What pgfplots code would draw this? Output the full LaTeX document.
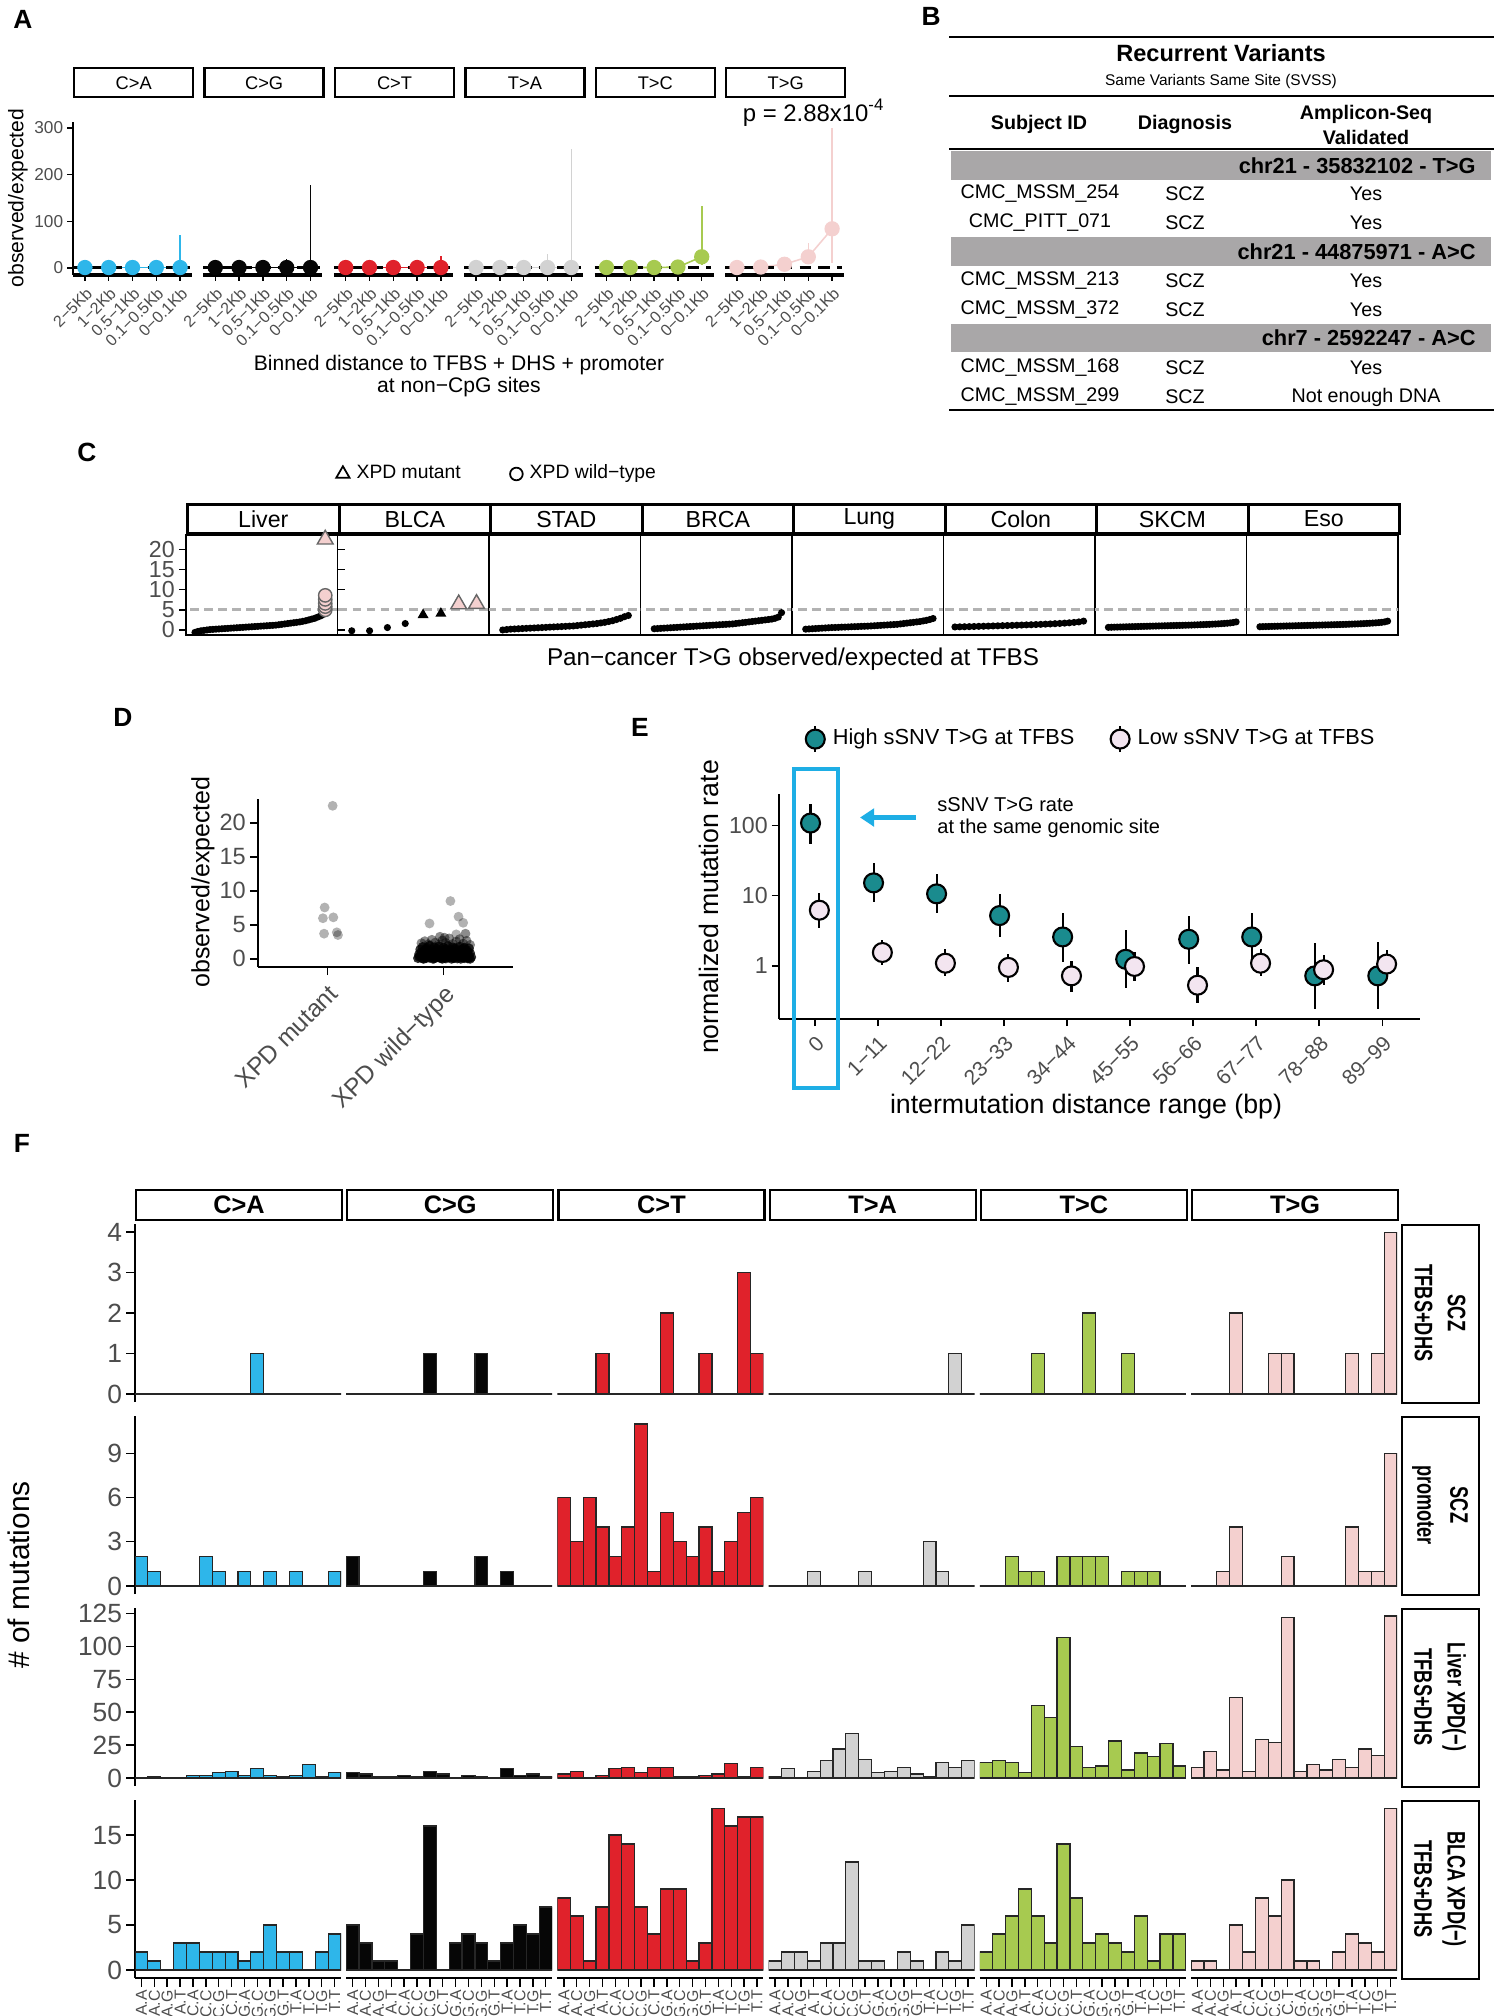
\documentclass[border=0pt]{standalone}
\usepackage{fontspec}
\setmainfont{Liberation Sans}
\newfontfamily\nsans[FakeStretch=0.72]{Liberation Sans}
\usepackage{pgfplots}
\pgfplotsset{compat=1.18}
\usepackage{pgfplotstable}
\usetikzlibrary{arrows.meta}
\newcommand\fs[1]{\fontsize{#1}{\fpeval{1.2*#1}}\selectfont}

\definecolor{cCA}{HTML}{2EB6EA}
\definecolor{cCG}{HTML}{060606}
\definecolor{cCT}{HTML}{E0222B}
\definecolor{cTA}{HTML}{D2D2D2}
\definecolor{cTC}{HTML}{A7CA50}
\definecolor{cTG}{HTML}{F4D0CF}
\definecolor{tg}{HTML}{4D4D4D}
\definecolor{teal2}{HTML}{1A8B8E}
\definecolor{lav}{HTML}{F3E5F0}
\definecolor{cyanbox}{HTML}{1EAEE5}
\definecolor{tabgray}{HTML}{A9A7A8}

% panel A: observed/expected per distance bin, with upper/lower error
\pgfplotstableread{
x ca epca emca cg epcg emcg ct epct emct ta epta emta tc eptc emtc tg eptg emtg
1 1 0 0 1 0 0 1 0 0 1 0 0 1 0 0 1 0 0
2 1 0 0 1 0 0 1 0 0 1 0 0 1 0 0 2 2 1
3 1 0 0 1 0 0 1 0 0 1 0 0 1 0 0 8 6 5
4 1 2 1 1 19 1 1 3 1 1 29 1 2 6 1 24 29 14
5 1 70 1 1 176 1 1 24 1 1 255 1 24 109 18 84 216 74
}\TA

% panel F: counts per trinucleotide context (A.A ... T.T)
\pgfplotstableread{
ca cg ct ta tc tg
0 0 0 0 0 0
0 0 0 0 0 0
0 0 0 0 0 0
0 0 1 0 0 2
0 0 0 0 1 0
0 0 0 0 0 0
0 1 0 0 0 1
0 0 0 0 0 1
0 0 2 0 2 0
1 0 0 0 0 0
0 1 0 0 0 0
0 0 1 0 1 0
0 0 0 0 0 1
0 0 0 0 0 0
0 0 3 1 0 1
0 0 1 0 0 4
}\FA
\pgfplotstableread{
ca cg ct ta tc tg
2 2 6 0 0 0
1 0 3 0 0 0
0 0 6 0 2 1
0 0 4 1 1 4
0 0 2 0 1 0
2 0 4 0 0 0
1 1 11 0 2 0
0 0 1 1 2 2
1 0 5 0 2 0
0 0 3 0 2 0
1 2 2 0 0 0
0 0 4 0 1 0
1 1 1 3 1 4
0 0 3 1 1 1
0 0 5 0 0 1
1 0 6 0 0 9
}\FB
\pgfplotstableread{
ca cg ct ta tc tg
0 4 3 1 12 8
1 3 5 7 13 20
0 1 0 0 12 6
0 1 2 5 4 61
2 2 7 13 55 5
2 1 8 22 46 29
4 5 4 34 107 27
5 3 8 14 24 122
2 0 8 4 8 5
7 2 1 5 9 10
2 1 1 8 28 6
1 0 2 3 6 14
2 7 3 1 19 8
10 2 11 12 16 22
1 3 1 8 26 17
4 1 8 13 9 123
}\FC
\pgfplotstableread{
ca cg ct ta tc tg
2 5 8 1 2 1
1 3 6 2 4 1
0 1 1 2 6 0
3 1 7 1 9 5
3 0 15 3 6 2
2 4 14 3 3 8
2 16 7 12 14 6
2 0 4 1 8 10
1 3 9 1 3 1
2 4 9 0 4 1
5 3 1 2 3 0
2 1 3 1 2 2
2 3 18 0 6 4
0 5 16 2 1 3
2 4 17 1 4 2
4 7 17 5 4 18
}\FD

\pgfplotsset{
  base/.style={scale only axis, anchor=south west,
    /pgf/number format/assume math mode=true,
    tick align=outside, major tick length=2pt, tick style={black, line width=0.4pt},
    ticklabel style={text=tg}, yticklabel style={inner sep=1pt}, axis line style={line width=0.5pt}},
  pA/.style={base, width=1.19cm, height=1.53cm, xmin=0.5, xmax=5.5, ymin=-15, ymax=313,
    axis x line*=bottom, x axis line style={line width=0.9pt}, y axis line style={line width=0.6pt},
    major tick length=1.6pt,
    xtick={1,...,5}, xticklabels={2−5Kb,1−2Kb,0.5−1Kb,0.1−0.5Kb,0−0.1Kb},
    xticklabel style={font=\fs{4.6}, rotate=45, anchor=north east, inner sep=1pt},
    ytick={0,100,200,300}, yticklabel style={font=\fs{4.9}}, clip=false},
  pC/.style={base, width=1.515cm, height=1.0cm, ymin=-1.25, ymax=23.6,
    xtick=\empty, ytick=\empty, axis line style={line width=0.5pt}, clip mode=individual},
  pF/.style={base, width=2.06cm, height=1.78cm, xmin=0.5, xmax=16.5,
    yticklabel style={font=\fs{7.5}}, axis line style={line width=0.6pt}, major tick length=2.5pt,
    xtick={1,...,16}, xticklabels={A.A,A.C,A.G,A.T,C.A,C.C,C.G,C.T,G.A,G.C,G.G,G.T,T.A,T.C,T.G,T.T},
    xticklabel style={font=\fs{4.5}, rotate=90, anchor=east, inner sep=0.8pt}},
  dots/.style={only marks, mark=*, mark size=0.8pt, black, forget plot},
  dash5/.style={black!30, line width=0.8pt, dash pattern=on 2.5pt off 1.5pt, forget plot},
  cloud/.style={only marks, mark=*, mark size=1.4pt, draw opacity=0, fill opacity=#1,
    mark options={draw opacity=0, fill=black, fill opacity=#1}},
}

\begin{document}
\begin{tikzpicture}
\useasboundingbox (0,0) rectangle (15,-20.16);

\node[font=\bfseries\fs{7.5}] at (0.23,-0.19) {A};
\node[font=\bfseries\fs{7.5}] at (9.31,-0.16) {B};
\node[font=\bfseries\fs{7.5}] at (0.87,-4.52) {C};
\node[font=\bfseries\fs{7.5}] at (1.23,-7.17) {D};
\node[font=\bfseries\fs{7.5}] at (6.40,-7.27) {E};
\node[font=\bfseries\fs{7.5}] at (0.22,-11.43) {F};

% ---------------- A ----------------
\foreach \k/\c/\colr/\lab in {0/ca/cCA/C>A,1/cg/cCG/C>G,2/ct/cCT/C>T,3/ta/cTA/T>A,4/tc/cTC/T>C,5/tg/cTG/T>G}{
  \pgfmathsetmacro\xl{0.73+1.304*\k}
  \node[draw, line width=0.7pt, minimum width=1.19cm, minimum height=0.29cm, inner sep=0pt,
        anchor=north west, font=\fs{5.2}] at (\xl,-0.67) {\lab};
  \ifnum\k=0 \pgfplotsset{axis y line*=left}\else\pgfplotsset{hide y axis}\fi
  \begin{axis}[pA, at={(\xl cm,-2.75cm)}]
    \addplot[color=\colr, line width=0.45pt, mark=*, mark size=1.95pt,
      mark options={draw=none, fill=\colr},
      error bars/.cd, y dir=both, y explicit, error mark=none,
      error bar style={line width=0.45pt, color=\colr}]
      table[x=x, y=\c, y error plus=ep\c, y error minus=em\c] {\TA};
    \addplot[black, line width=0.8pt, dash pattern=on 3.3pt off 2pt] coordinates {(0.5,1) (5.4,1)};
  \end{axis}
}
\node[font=\fs{6.8}] at (8.14,-1.13) {p = 2.88x10\textsuperscript{-4}};
\node[rotate=90, font=\fs{6}] at (0.18,-1.98) {observed/expected};
\node[font=\fs{6}] at (4.59,-3.65) {Binned distance to TFBS + DHS + promoter};
\node[font=\fs{6}] at (4.59,-3.87) {at non−CpG sites};

% ---------------- B ----------------
\draw[line width=0.6pt] (9.49,-0.37) -- (14.94,-0.37);
\node[font=\bfseries\fs{6.7}] at (12.21,-0.53) {Recurrent Variants};
\node[font=\fs{4.4}] at (12.21,-0.82) {Same Variants Same Site (SVSS)};
\draw[line width=0.6pt] (9.49,-0.96) -- (14.94,-0.96);
\node[font=\bfseries\fs{5.6}] at (10.39,-1.24) {Subject ID};
\node[font=\bfseries\fs{5.6}] at (11.85,-1.24) {Diagnosis};
\node[font=\bfseries\fontsize{5.6}{7.1}\selectfont, align=center] at (13.66,-1.25) {Amplicon-Seq\\Validated};
\draw[line width=0.6pt] (9.49,-1.49) -- (14.94,-1.49);
\fill[tabgray] (9.51,-1.51) rectangle (14.91,-1.80);
\fill[tabgray] (9.51,-2.37) rectangle (14.91,-2.66);
\fill[tabgray] (9.51,-3.24) rectangle (14.91,-3.52);
\node[font=\bfseries\fs{6.2}, anchor=east] at (14.88,-1.655) {chr21 - 35832102 - T>G};
\node[font=\bfseries\fs{6.2}, anchor=east] at (14.88,-2.515) {chr21 - 44875971 - A>C};
\node[font=\bfseries\fs{6.2}, anchor=east] at (14.88,-3.38) {chr7 - 2592247 - A>C};
\foreach \y/\id/\val in {1.94/CMC\_MSSM\_254/Yes, 2.23/CMC\_PITT\_071/Yes, 2.81/CMC\_MSSM\_213/Yes,
  3.10/CMC\_MSSM\_372/Yes, 3.68/CMC\_MSSM\_168/Yes, 3.97/CMC\_MSSM\_299/Not enough DNA}{
  \node[font=\fs{5.6}] at (10.40,-\y) {\id};
  \node[font=\fs{5.6}] at (11.85,-\y) {SCZ};
  \node[font=\fs{5.6}] at (13.66,-\y) {\val};
}
\draw[line width=0.6pt] (9.49,-4.10) -- (14.94,-4.10);

% ---------------- C ----------------
\foreach \k/\lab in {0/Liver,1/BLCA,2/STAD,3/BRCA,4/Lung,5/Colon,6/SKCM,7/Eso}{
  \pgfmathsetmacro\xl{1.86+1.515*\k}
  \node[draw, line width=0.9pt, minimum width=1.515cm, minimum height=0.29cm, inner sep=0pt,
        anchor=north west, font=\fs{6.6}] at (\xl,-5.03) {\lab};
}
\begin{axis}[pC, at={(1.86cm,-6.35cm)}, xmin=-2, xmax=48.6,
  ytick={0,5,10,15,20}, yticklabel style={font=\fs{6.6}},
  legend style={at={(2.07,1.61)}, anchor=center, draw=none, fill=none, legend columns=2,
    font=\fs{5.5}, /tikz/every even column/.append style={column sep=12pt}}]
  \addplot[dash5] coordinates {(-10,5) (60,5)};
  \addplot[dots] table[header=false, x expr=\coordindex+1, y index=0, row sep=\\]{
-0.6\\-0.35\\-0.2\\-0.1\\0.0\\0.1\\0.15\\0.2\\0.25\\0.3\\0.35\\0.4\\0.45\\0.5\\0.55\\0.6\\0.65\\0.7\\0.75\\0.8\\0.85\\0.9\\
0.95\\1.0\\1.05\\1.1\\1.15\\1.2\\1.3\\1.4\\1.5\\1.6\\1.7\\1.8\\1.9\\2.0\\2.15\\2.3\\2.5\\2.7\\2.9\\3.2\\3.5\\3.9\\};
  \addplot[only marks, mark=*, mark size=1.9pt, mark options={fill=cTG, draw=black!60, line width=0.4pt}, forget plot]
    coordinates {(44.5,5.0) (44.5,5.8) (44.5,6.6) (44.5,7.6) (44.5,8.6)};
  \addplot[only marks, mark=triangle*, mark size=2.6pt, mark options={fill=cTG, draw=black!60, line width=0.4pt}, forget plot]
    coordinates {(44.5,22.5)};
  \addlegendimage{only marks, mark=triangle, mark size=2.2pt, black, mark options={line width=0.5pt}}
  \addlegendentry{XPD mutant}
  \addlegendimage{only marks, mark=o, mark size=1.8pt, black, mark options={line width=0.5pt}}
  \addlegendentry{XPD wild−type}
\end{axis}
\begin{axis}[pC, at={(3.375cm,-6.35cm)}, xmin=0.2, xmax=8.7]
  \addplot[dash5] coordinates {(-10,5) (60,5)};
  \addplot[dots] coordinates {(1,-0.2) (2,-0.2) (3,0.6) (4,1.6)};
  \addplot[only marks, mark=triangle*, mark size=1.4pt, black] coordinates {(5,3.75) (6,4.1)};
  \addplot[only marks, mark=triangle*, mark size=2.6pt, mark options={fill=cTG, draw=black!60, line width=0.4pt}]
    coordinates {(7,6.4) (8,6.5)};
\end{axis}
\begin{axis}[pC, at={(4.89cm,-6.35cm)}, xmin=-2.5, xmax=36.1]
  \addplot[dash5] coordinates {(-10,5) (60,5)};
  \addplot[dots] table[header=false, x expr=\coordindex+1, y index=0, row sep=\\]{
0.0\\0.1\\0.2\\0.25\\0.3\\0.35\\0.4\\0.45\\0.5\\0.55\\0.6\\0.65\\0.7\\0.75\\0.8\\0.85\\0.9\\0.95\\1.0\\1.1\\1.2\\1.3\\
1.4\\1.5\\1.6\\1.75\\1.9\\2.1\\2.3\\2.6\\2.9\\3.3\\3.6\\};
\end{axis}
\begin{axis}[pC, at={(6.405cm,-6.35cm)}, xmin=-3.2, xmax=43.2]
  \addplot[dash5] coordinates {(-10,5) (60,5)};
  \addplot[dots] table[header=false, x expr=\coordindex+1, y index=0, row sep=\\]{
0.3\\0.35\\0.4\\0.45\\0.5\\0.55\\0.6\\0.65\\0.7\\0.75\\0.8\\0.85\\0.9\\0.95\\1.0\\1.05\\1.1\\1.15\\1.2\\1.25\\1.3\\1.35\\
1.4\\1.45\\1.5\\1.6\\1.7\\1.8\\1.9\\2.0\\2.1\\2.2\\2.3\\2.4\\2.5\\2.6\\2.7\\2.9\\3.2\\4.3\\};
\end{axis}
\begin{axis}[pC, at={(7.92cm,-6.35cm)}, xmin=-3.2, xmax=43.2]
  \addplot[dash5] coordinates {(-10,5) (60,5)};
  \addplot[dots] table[header=false, x expr=\coordindex+1, y index=0, row sep=\\]{
0.2\\0.25\\0.3\\0.35\\0.4\\0.45\\0.5\\0.55\\0.6\\0.62\\0.65\\0.7\\0.72\\0.75\\0.8\\0.82\\0.85\\0.9\\0.92\\0.95\\1.0\\1.05\\
1.1\\1.15\\1.2\\1.25\\1.3\\1.35\\1.4\\1.5\\1.6\\1.7\\1.8\\1.9\\2.0\\2.1\\2.25\\2.4\\2.6\\2.85\\};
\end{axis}
\begin{axis}[pC, at={(9.435cm,-6.35cm)}, xmin=-1.4, xmax=30.4]
  \addplot[dash5] coordinates {(-10,5) (60,5)};
  \addplot[dots] table[header=false, x expr=\coordindex+1, y index=0, row sep=\\]{
0.75\\0.78\\0.8\\0.83\\0.86\\0.9\\0.93\\0.96\\1.0\\1.03\\1.07\\1.1\\1.14\\1.18\\1.22\\1.26\\1.3\\1.35\\1.4\\1.45\\1.5\\
1.56\\1.62\\1.7\\1.78\\1.88\\2.0\\2.2\\};
\end{axis}
\begin{axis}[pC, at={(10.95cm,-6.35cm)}, xmin=-3.5, xmax=47.5]
  \addplot[dash5] coordinates {(-10,5) (60,5)};
  \addplot[dots] table[header=false, x expr=\coordindex+1, y index=0, row sep=\\]{
0.65\\0.68\\0.7\\0.72\\0.74\\0.76\\0.78\\0.8\\0.82\\0.84\\0.86\\0.88\\0.9\\0.92\\0.94\\0.96\\0.98\\1.0\\1.02\\1.04\\
1.06\\1.08\\1.1\\1.12\\1.14\\1.16\\1.18\\1.2\\1.22\\1.25\\1.28\\1.31\\1.34\\1.37\\1.4\\1.44\\1.48\\1.52\\1.57\\1.62\\
1.68\\1.75\\1.85\\2.0\\};
\end{axis}
\begin{axis}[pC, at={(12.465cm,-6.35cm)}, xmin=-3.5, xmax=47.5]
  \addplot[dash5] coordinates {(-10,5) (60,5)};
  \addplot[dots] table[header=false, x expr=\coordindex+1, y index=0, row sep=\\]{
0.8\\0.83\\0.85\\0.87\\0.89\\0.91\\0.93\\0.95\\0.97\\0.99\\1.01\\1.03\\1.05\\1.07\\1.09\\1.11\\1.13\\1.15\\1.17\\1.19\\
1.21\\1.23\\1.25\\1.27\\1.29\\1.31\\1.33\\1.35\\1.37\\1.4\\1.43\\1.46\\1.49\\1.52\\1.55\\1.59\\1.63\\1.67\\1.72\\1.77\\
1.83\\1.9\\2.0\\2.2\\};
\end{axis}
\node[font=\fs{6.9}] at (7.93,-6.59) {Pan−cancer T>G observed/expected at TFBS};

% ---------------- D ----------------
\begin{axis}[base, at={(2.58cm,-9.67cm)}, width=2.55cm, height=1.68cm,
  xmin=0.4, xmax=2.6, ymin=-1.2, ymax=23.5,
  axis x line*=bottom, axis y line*=left, axis line style={line width=0.6pt}, major tick length=2.3pt,
  xtick={1,2}, xticklabels={XPD mutant,XPD wild−type},
  xticklabel style={font=\fs{7}, rotate=45, anchor=north east, inner sep=1.5pt},
  ytick={0,5,10,15,20}, yticklabel style={font=\fs{6.7}}, clip=false]
  % isolated samples
  \addplot[cloud=0.3]
  coordinates {(1.044,22.5) (0.975,7.55) (0.96,5.97) (1.05,6.1) (0.97,3.7) (1.08,3.9) (1.09,3.5)
  (2.06,8.5) (2.13,6.2) (2.17,5.3) (1.88,5.2) (2.11,3.6)};
  % upper fringe of the cloud
  \addplot[cloud=0.45]
  coordinates {
  (1.81,2.30) (1.84,2.60) (1.87,2.15) (1.90,2.80) (1.93,2.40) (1.96,2.10) (1.99,2.70) (2.02,2.35)
  (2.05,3.00) (2.08,2.20) (2.11,2.55) (2.14,2.90) (2.17,2.25) (2.20,2.65) (2.23,2.05) (1.97,3.25)
  (2.01,3.10) (2.19,3.70)};
  % dense wild-type cloud
  \addplot[cloud=0.8]
  coordinates {
  (1.78,0.10) (1.80,0.35) (1.82,0.05) (1.84,0.25) (1.86,0.45) (1.88,0.15) (1.90,0.30) (1.92,0.05)
  (1.94,0.40) (1.96,0.20) (1.98,0.10) (2.00,0.35) (2.02,0.05) (2.04,0.25) (2.06,0.45) (2.08,0.15)
  (2.10,0.30) (2.12,0.05) (2.14,0.40) (2.16,0.20) (2.18,0.10) (2.20,0.35) (2.22,0.15) (2.24,0.25)
  (1.79,0.70) (1.81,1.00) (1.83,0.60) (1.85,0.90) (1.87,1.15) (1.89,0.65) (1.91,0.95) (1.93,0.55)
  (1.95,1.10) (1.97,0.75) (1.99,0.60) (2.01,1.05) (2.03,0.80) (2.05,0.55) (2.07,1.00) (2.09,0.70)
  (2.11,1.15) (2.13,0.60) (2.15,0.90) (2.17,0.75) (2.19,1.10) (2.21,0.65) (2.23,0.85)
  (1.80,1.40) (1.82,1.75) (1.84,1.30) (1.86,1.60) (1.88,1.95) (1.90,1.35) (1.92,1.70) (1.94,1.50)
  (1.96,1.85) (1.98,1.25) (2.00,1.65) (2.02,1.45) (2.04,1.90) (2.06,1.30) (2.08,1.70) (2.10,1.55)
  (2.12,1.25) (2.14,1.80) (2.16,1.40) (2.18,1.65) (2.20,1.30) (2.22,1.55)
  (1.83,0.00) (1.91,0.00) (1.99,0.00) (2.07,0.00) (2.15,0.00) (2.23,0.00) (1.87,0.50) (1.95,0.45)
  (2.03,0.50) (2.11,0.50) (2.19,0.50)
  (1.79,0.30) (1.85,0.10) (1.89,0.40) (1.93,0.20) (1.97,0.35) (2.01,0.15) (2.05,0.30) (2.09,0.10)
  (2.13,0.35) (2.17,0.25) (2.21,0.05) (1.81,0.55) (1.89,0.85) (1.97,1.00) (2.05,0.80) (2.13,0.95)
  (2.21,1.00) (1.85,1.45) (1.93,1.20) (2.01,1.35) (2.09,1.30) (2.17,1.50) (1.83,1.05) (2.15,1.10)};
\end{axis}
\node[rotate=90, font=\fs{7.1}] at (2.03,-8.82) {observed/expected};

% ---------------- E ----------------
\begin{axis}[base, at={(7.79cm,-10.19cm)}, width=6.41cm, height=2.25cm,
  ymode=log, ymin=0.175, ymax=280, xmin=0.43, xmax=10.6,
  axis x line*=bottom, axis y line*=left, axis line style={line width=0.7pt},
  ytick={1,10,100}, yticklabels={1,10,100}, yminorticks=false,
  yticklabel style={font=\fs{6.6}},
  xtick={1,...,10}, xticklabels={0,1−11,12−22,23−33,34−44,45−55,56−66,67−77,78−88,89−99},
  xticklabel style={font=\fs{6}, rotate=45, anchor=north east, inner sep=1.5pt},
  clip=false,
  legend style={at={(0.49,1.244)}, anchor=center, draw=none, fill=none, legend columns=2,
    font=\fs{6.2}, /tikz/every even column/.append style={column sep=8pt}}]
  \addplot[only marks, mark=*, mark size=2.7pt, mark options={fill=teal2, draw=black, line width=0.6pt},
    legend image code/.code={\draw[black, line width=0.6pt] (0.15cm,-0.13cm) -- (0.15cm,0.13cm);
      \draw[black, fill=teal2, line width=0.6pt] (0.15cm,0cm) circle (2.7pt);},
    error bars/.cd, y dir=both, y explicit, error mark=none, error bar style={black, line width=0.6pt}]
  coordinates {(0.93,108) += (0,95) -= (0,53) (1.93,15.2) += (0,13.8) -= (0,7)
    (2.93,10.6) += (0,10) -= (0,5) (3.93,5.2) += (0,5.4) -= (0,2.6)
    (4.93,2.58) += (0,3.0) -= (0,1.43) (5.93,1.24) += (0,2.0) -= (0,0.75)
    (6.93,2.39) += (0,2.8) -= (0,1.33) (7.93,2.58) += (0,3.0) -= (0,1.47)
    (8.93,0.72) += (0,1.42) -= (0,0.48) (9.93,0.72) += (0,1.47) -= (0,0.48)};
  \addlegendentry{High sSNV T>G at TFBS}
  \addplot[only marks, mark=*, mark size=2.7pt, mark options={fill=lav, draw=black, line width=0.6pt},
    legend image code/.code={\draw[black, line width=0.6pt] (0.15cm,-0.13cm) -- (0.15cm,0.13cm);
      \draw[black, fill=lav, line width=0.6pt] (0.15cm,0cm) circle (2.7pt);},
    error bars/.cd, y dir=both, y explicit, error mark=none, error bar style={black, line width=0.6pt}]
  coordinates {(1.07,6.2) += (0,4.8) -= (0,2.7) (2.07,1.55) += (0,0.8) -= (0,0.52)
    (3.07,1.09) += (0,0.63) -= (0,0.38) (4.07,0.95) += (0,0.53) -= (0,0.37)
    (5.07,0.72) += (0,0.46) -= (0,0.30) (6.07,0.98) += (0,0.57) -= (0,0.37)
    (7.07,0.53) += (0,0.42) -= (0,0.23) (8.07,1.09) += (0,0.63) -= (0,0.38)
    (9.07,0.88) += (0,0.54) -= (0,0.35) (10.07,1.06) += (0,0.63) -= (0,0.34)};
  \addlegendentry{Low sSNV T>G at TFBS}
\end{axis}
\draw[cyanbox, line width=0.9pt] (7.94,-7.69) rectangle (8.38,-10.88);
\draw[cyanbox, line width=1.3pt, -{Triangle[length=4pt, width=5pt]}] (9.16,-8.175) -- (8.60,-8.175);
\node[font=\fs{5.7}, anchor=west] at (9.25,-8.05) {sSNV T>G rate};
\node[font=\fs{5.7}, anchor=west] at (9.25,-8.28) {at the same genomic site};
\node[rotate=90, font=\fs{7.6}] at (7.09,-9.07) {normalized mutation rate};
\node[font=\fs{7.6}] at (10.86,-11.07) {intermutation distance range (bp)};

% ---------------- F ----------------
\foreach \k/\c/\colr/\lab in {0/ca/cCA/C>A,1/cg/cCG/C>G,2/ct/cCT/C>T,3/ta/cTA/T>A,4/tc/cTC/T>C,5/tg/cTG/T>G}{
  \pgfmathsetmacro\xl{1.35+2.112*\k}
  \node[draw, line width=0.6pt, minimum width=2.06cm, minimum height=0.30cm, inner sep=0pt,
        anchor=south west, font=\bfseries\fs{7.2}] at (\xl,-12.21) {\lab};
  \ifnum\k=0 \pgfplotsset{axis y line*=left}\else\pgfplotsset{hide y axis}\fi
  \begin{axis}[pF, hide x axis, at={(\xl cm,-14.02cm)}, ymin=-0.2, ymax=4.2, ytick distance=1]
    \addplot[ybar, bar width=1, fill=\colr, draw=black!85, line width=0.35pt]
      table[x expr=\coordindex+1, y=\c]{\FA};
  \end{axis}
}
\foreach \k/\c/\colr in {0/ca/cCA,1/cg/cCG,2/ct/cCT,3/ta/cTA,4/tc/cTC,5/tg/cTG}{
  \pgfmathsetmacro\xl{1.35+2.112*\k}
  \ifnum\k=0 \pgfplotsset{axis y line*=left}\else\pgfplotsset{hide y axis}\fi
  \begin{axis}[pF, hide x axis, at={(\xl cm,-15.94cm)}, ymin=-0.55, ymax=11.55, ytick distance=3]
    \addplot[ybar, bar width=1, fill=\colr, draw=black!85, line width=0.35pt]
      table[x expr=\coordindex+1, y=\c]{\FB};
  \end{axis}
}
\foreach \k/\c/\colr in {0/ca/cCA,1/cg/cCG,2/ct/cCT,3/ta/cTA,4/tc/cTC,5/tg/cTG}{
  \pgfmathsetmacro\xl{1.35+2.112*\k}
  \ifnum\k=0 \pgfplotsset{axis y line*=left}\else\pgfplotsset{hide y axis}\fi
  \begin{axis}[pF, hide x axis, at={(\xl cm,-17.86cm)}, ymin=-6.15, ymax=129.15, ytick distance=25]
    \addplot[ybar, bar width=1, fill=\colr, draw=black!85, line width=0.35pt]
      table[x expr=\coordindex+1, y=\c]{\FC};
  \end{axis}
}
\foreach \k/\c/\colr in {0/ca/cCA,1/cg/cCG,2/ct/cCT,3/ta/cTA,4/tc/cTC,5/tg/cTG}{
  \pgfmathsetmacro\xl{1.35+2.112*\k}
  \ifnum\k=0 \pgfplotsset{axis y line*=left}\else\pgfplotsset{hide y axis}\fi
  \begin{axis}[pF, axis x line*=bottom, at={(\xl cm,-19.78cm)}, ymin=-0.9, ymax=18.9, ytick distance=5]
    \addplot[ybar, bar width=1, fill=\colr, draw=black!85, line width=0.35pt]
      table[x expr=\coordindex+1, y=\c]{\FD};
  \end{axis}
}
\foreach \top/\lab in {12.24/SCZ\\TFBS+DHS, 14.16/SCZ\\promoter, 16.08/Liver XPD(−)\\TFBS+DHS, 18.00/BLCA XPD(−)\\TFBS+DHS}{
  \node[draw, line width=0.6pt, minimum width=0.77cm, minimum height=1.78cm, inner sep=0pt,
        anchor=north west] at (14.01,-\top) {};
  \node[rotate=-90, align=center, font=\nsans\bfseries\fontsize{7.2}{9.4}\selectfont] at (14.40,-\top-0.89) {\lab};
}
\node[rotate=90, font=\fs{8.5}] at (0.19,-15.75) {\# of mutations};
\end{tikzpicture}
\end{document}
